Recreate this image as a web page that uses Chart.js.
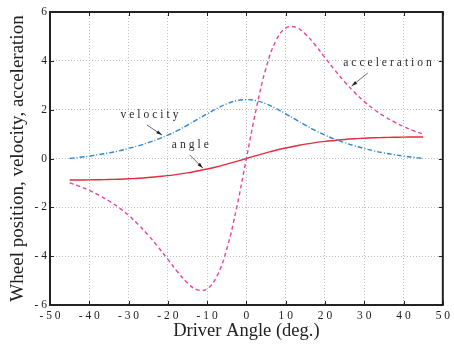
<!DOCTYPE html>
<html>
<head>
<meta charset="utf-8">
<script src="https://cdn.jsdelivr.net/npm/chart.js@4.4.0/dist/chart.umd.min.js"></script>
<style>
	body { margin: 0; background: #fff; }
</style>
</head>
<body>
<canvas id="myChart" width="454" height="347"></canvas>
<script>
// driver angle (deg.)
let driverAngle = [-45, -42.5, -40, -37.5, -35, -32.5, -30, -27.5, -25, -22.5, -20, -17.5, -15, -12.5, -10, -7.5, -5, -2.5, 0,
	2.5, 5, 7.5, 10, 12.5, 15, 17.5, 20, 22.5, 25, 27.5, 30, 32.5, 35, 37.5, 40, 42.5, 45];

let wheelAngle = [-0.88, -0.88, -0.875, -0.87, -0.86, -0.85, -0.83, -0.81, -0.78, -0.74, -0.7, -0.65, -0.59, -0.51, -0.43, -0.34, -0.23, -0.12, 0,
	0.12, 0.23, 0.34, 0.43, 0.51, 0.59, 0.65, 0.7, 0.74, 0.78, 0.81, 0.83, 0.85, 0.86, 0.87, 0.875, 0.88, 0.88];

let wheelVelocity = [0, 0.05, 0.1, 0.16, 0.23, 0.31, 0.41, 0.52, 0.65, 0.79, 0.96, 1.15, 1.37, 1.6, 1.83, 2.05, 2.24, 2.37, 2.41,
	2.37, 2.24, 2.05, 1.83, 1.6, 1.37, 1.15, 0.96, 0.79, 0.65, 0.52, 0.41, 0.31, 0.23, 0.16, 0.1, 0.05, 0];

let wheelAccel = [-1.0, -1.14, -1.31, -1.51, -1.74, -2.01, -2.33, -2.71, -3.14, -3.62, -4.13, -4.65, -5.1, -5.38, -5.34, -4.82, -3.71, -2.03, 0,
	2.03, 3.71, 4.82, 5.34, 5.38, 5.1, 4.65, 4.13, 3.62, 3.14, 2.71, 2.33, 2.01, 1.74, 1.51, 1.31, 1.14, 1.0];

let xTicks = [-50, -40, -30, -20, -10, 0, 10, 20, 30, 40, 50];
let yTicks = [-6, -4, -2, 0, 2, 4, 6];

// curve labels: text, label anchor, arrow tail, arrow head (data units)
let notes = [
	{ text: "velocity", at: [-24.3, 1.78], from: [-25.3, 1.37], to: [-21.5, 0.96] },
	{ text: "angle", at: [-13.9, 0.55], from: [-14.4, 0.14], to: [-11.1, -0.39] },
	{ text: "acceleration", at: [36.3, 3.91], from: [30.9, 3.5], to: [26.8, 2.97] },
];

function toPoints(ys) {
	return driverAngle.map((x, i) => ({ x: x, y: ys[i] }));
}

function spaced(v) {
	return String(v).split("").join(" ");
}

let framePlugin = {
	id: "frame",
	afterDatasetsDraw(chart) {
		let c = chart.ctx;
		let a = chart.chartArea;
		let sx = chart.scales.x;
		let sy = chart.scales.y;
		c.save();
		c.strokeStyle = "#222";
		c.lineWidth = 1;
		c.beginPath();
		xTicks.forEach((t) => {
			let px = Math.round(sx.getPixelForValue(t)) + 0.5;
			c.moveTo(px, a.bottom);
			c.lineTo(px, a.bottom - 4);
			c.moveTo(px, a.top);
			c.lineTo(px, a.top + 4);
		});
		yTicks.forEach((t) => {
			let py = Math.round(sy.getPixelForValue(t)) + 0.5;
			c.moveTo(a.left, py);
			c.lineTo(a.left + 4, py);
			c.moveTo(a.right, py);
			c.lineTo(a.right - 4, py);
		});
		c.stroke();
		c.lineWidth = 2;
		c.strokeRect(a.left, a.top, a.right - a.left, a.bottom - a.top);
		c.restore();
	},
};

let notePlugin = {
	id: "notes",
	afterDatasetsDraw(chart) {
		let c = chart.ctx;
		let sx = chart.scales.x;
		let sy = chart.scales.y;
		c.save();
		c.font = "11.5px 'Liberation Serif'";
		c.letterSpacing = "3px";
		c.textAlign = "center";
		c.textBaseline = "middle";
		for (let n of notes) {
			c.fillStyle = "#2a2a2a";
			c.fillText(n.text, sx.getPixelForValue(n.at[0]), sy.getPixelForValue(n.at[1]));

			let x1 = sx.getPixelForValue(n.from[0]);
			let y1 = sy.getPixelForValue(n.from[1]);
			let x2 = sx.getPixelForValue(n.to[0]);
			let y2 = sy.getPixelForValue(n.to[1]);
			let ang = Math.atan2(y2 - y1, x2 - x1);
			c.strokeStyle = "#444";
			c.lineWidth = 0.8;
			c.beginPath();
			c.moveTo(x1, y1);
			c.lineTo(x2, y2);
			c.stroke();
			c.fillStyle = "#222";
			c.beginPath();
			c.moveTo(x2, y2);
			c.lineTo(x2 - 6 * Math.cos(ang - 0.3), y2 - 6 * Math.sin(ang - 0.3));
			c.lineTo(x2 - 6 * Math.cos(ang + 0.3), y2 - 6 * Math.sin(ang + 0.3));
			c.closePath();
			c.fill();
		}
		c.restore();
	},
};

var ctx = document.getElementById("myChart").getContext("2d");
var chart = new Chart(ctx, {
	type: "line",
	data: {
		datasets: [
			{
				label: "acceleration",
				data: toPoints(wheelAccel),
				borderColor: "#e8429a",
				borderWidth: 1.4,
				borderDash: [4, 3],
				pointRadius: 0,
				tension: 0.4,
			},
			{
				label: "velocity",
				data: toPoints(wheelVelocity),
				borderColor: "#2b87d1",
				borderWidth: 1.4,
				borderDash: [5, 2, 1, 2],
				pointRadius: 0,
				tension: 0.4,
			},
			{
				label: "angle",
				data: toPoints(wheelAngle),
				borderColor: "#e52b3f",
				borderWidth: 1.4,
				pointRadius: 0,
				tension: 0.4,
			},
		],
	},
	options: {
		responsive: false,
		animation: false,
		layout: { padding: { left: 0, right: 11, top: 12, bottom: 0 } },
		plugins: {
			legend: { display: false },
			tooltip: { enabled: false },
		},
		scales: {
			x: {
				type: "linear",
				min: -50,
				max: 50,
				afterBuildTicks: (s) => { s.ticks = xTicks.map((v) => ({ value: v })); },
				afterFit: (s) => { s.height = 42; },
				grid: { color: "#bdbdbd", lineWidth: 1, drawTicks: false },
				border: { display: false, dash: [1, 2] },
				ticks: {
					padding: 4,
					color: "#222",
					font: { family: "'Liberation Serif'", size: 11.5 },
					maxRotation: 0,
					callback: (v) => spaced(v),
				},
				title: {
					display: true,
					text: "Driver Angle (deg.)",
					color: "#222",
					font: { family: "'Liberation Serif'", size: 18.5 },
					padding: { top: 0, bottom: 5 },
				},
			},
			y: {
				min: -6,
				max: 6,
				afterBuildTicks: (s) => { s.ticks = yTicks.map((v) => ({ value: v })); },
				afterFit: (s) => { s.width = 50; },
				grid: { color: "#bdbdbd", lineWidth: 1, drawTicks: false },
				border: { display: false, dash: [1, 2] },
				ticks: {
					padding: 3,
					color: "#222",
					font: { family: "'Liberation Serif'", size: 11.5 },
					callback: (v) => spaced(v),
				},
				title: {
					display: true,
					text: "Wheel position, velocity, acceleration",
					color: "#222",
					font: { family: "'Liberation Serif'", size: 19 },
					padding: { top: 7, bottom: 0 },
				},
			},
		},
	},
	plugins: [framePlugin, notePlugin],
});
</script>
</body>
</html>
